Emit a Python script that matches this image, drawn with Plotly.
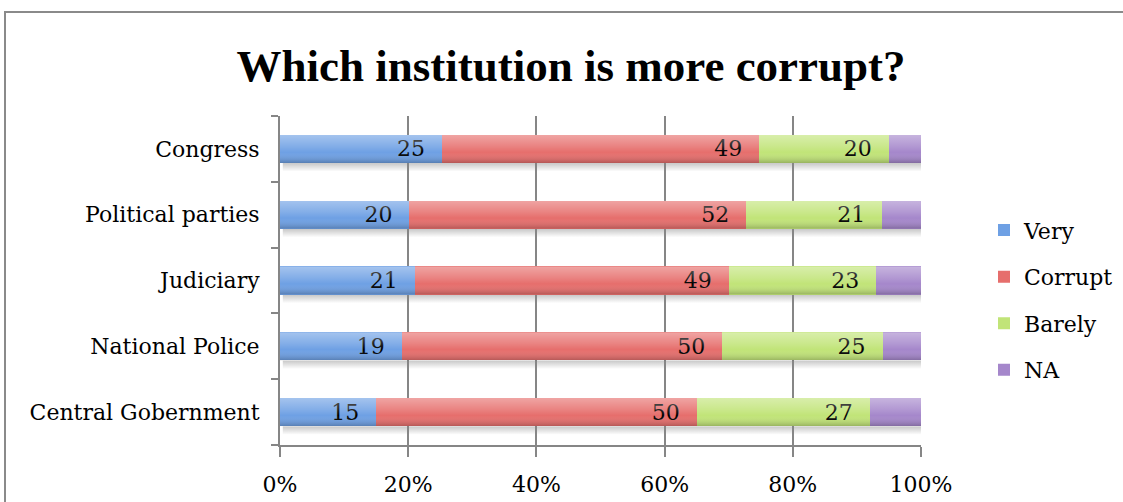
import base64
import plotly.graph_objects as go

# Survey answers per institution (counts in %)
institutions = ["Congress", "Political parties", "Judiciary", "National Police", "Central Gobernment"]
very = [25, 20, 21, 19, 15]
corrupt = [49, 52, 49, 50, 50]
barely = [20, 21, 23, 25, 27]
na = [5, 6, 7, 6, 8]

series = [
    ("Very", very, "#6ea0e4", True),
    ("Corrupt", corrupt, "#e66e6c", True),
    ("Barely", barely, "#c1e478", True),
    ("NA", na, "#a587cb", False),
]

FONT = "DejaVu Serif"
TITLE_FONT = "Liberation Serif"
PAD = "\u00a0\u00a0"
BARGAP = 0.57

fig = go.Figure()
for name, vals, color, labelled in series:
    fig.add_trace(go.Bar(
        name=name,
        legendgroup=name,
        y=institutions,
        x=vals,
        orientation="h",
        marker=dict(color=color, line=dict(width=0)),
        text=[f"{v}{PAD}" for v in vals] if labelled else None,
        textposition="inside" if labelled else "none",
        insidetextanchor="end",
        textangle=0,
        textfont=dict(family=FONT, size=22, color="black"),
        constraintext="none",
    ))


def svg_uri(stops):
    """Vertical linear gradient as an SVG data URI."""
    stop_tags = "".join(
        f'<stop offset="{o}" stop-color="{c}" stop-opacity="{a}"/>' for o, c, a in stops
    )
    svg = (
        '<svg xmlns="http://www.w3.org/2000/svg" width="100" height="100" '
        'viewBox="0 0 100 100" preserveAspectRatio="none">'
        f'<defs><linearGradient id="g" x1="0" y1="0" x2="0" y2="1">{stop_tags}</linearGradient></defs>'
        '<rect x="0" y="0" width="100" height="100" fill="url(#g)"/></svg>'
    )
    return "data:image/svg+xml;base64," + base64.b64encode(svg.encode()).decode()


# Glossy shading over each bar and a soft shadow underneath
shine = svg_uri([(0, "#ffffff", 0.38), (0.4, "#ffffff", 0.15), (0.62, "#ffffff", 0.0), (1, "#000000", 0.22)])
shadow = svg_uri([(0, "#000000", 0.22), (1, "#000000", 0.0)])
half = (1 - BARGAP) / 2
images = []
for i in range(len(institutions)):
    images.append(dict(
        source=shine, xref="x", yref="y", x=0, y=i + half,
        sizex=100, sizey=2 * half, xanchor="left", yanchor="top",
        sizing="stretch", layer="above", opacity=1,
    ))
    images.append(dict(
        source=shadow, xref="x", yref="y", x=0.4, y=i - half,
        sizex=100.4, sizey=0.13, xanchor="left", yanchor="top",
        sizing="stretch", layer="below", opacity=1,
    ))

fig.update_layout(
    width=1123,
    height=502,
    barmode="stack",
    barnorm="percent",
    bargap=BARGAP,
    paper_bgcolor="white",
    plot_bgcolor="white",
    margin=dict(l=280, r=202, t=116, b=57, autoexpand=False),
    font=dict(family=FONT, color="black"),
    title=dict(
        text="<b>Which institution is more corrupt?</b>",
        xref="container", x=571 / 1123, xanchor="center",
        y=1 - 65 / 502, yanchor="middle",
        font=dict(family=TITLE_FONT, size=45, color="black"),
    ),
    legend=dict(
        x=(984 - 280) / 641, xanchor="left",
        y=0.44, yanchor="middle",
        traceorder="grouped",
        font=dict(family=FONT, size=22, color="black"),
        itemsizing="constant",
        tracegroupgap=15,
        itemwidth=30,
        bgcolor="rgba(0,0,0,0)",
    ),
    images=images,
    uniformtext=dict(mode=False),
    showlegend=True,
)

fig.update_xaxes(
    range=[0, 100],
    tickvals=[0, 20, 40, 60, 80, 100],
    ticktext=["0%", "20%", "40%", "60%", "80%", "100%"],
    showgrid=True,
    gridcolor="#868686",
    gridwidth=2,
    showline=True,
    linecolor="#868686",
    linewidth=2,
    ticks="outside",
    ticklen=10,
    tickwidth=2,
    tickcolor="#868686",
    tickfont=dict(family=FONT, size=22, color="black"),
    ticklabelstandoff=9,
    zeroline=False,
    fixedrange=True,
)

fig.update_yaxes(
    categoryorder="array",
    categoryarray=institutions[::-1],
    showline=True,
    linecolor="#868686",
    linewidth=2,
    ticks="outside",
    tickson="boundaries",
    ticklen=7,
    tickwidth=2,
    tickcolor="#868686",
    tickfont=dict(family=FONT, size=22, color="black"),
    ticklabelstandoff=14,
    showgrid=False,
    fixedrange=True,
)

# Outer chart frame
fig.add_shape(
    type="rect", xref="paper", yref="paper",
    x0=(5 - 280) / 641, x1=(1130 - 280) / 641,
    y0=(445 - 510) / 329, y1=(445 - 12) / 329,
    line=dict(color="#8a8a8a", width=2),
    fillcolor="rgba(0,0,0,0)",
    layer="below",
)

fig.write_html("out.html", config={"displayModeBar": False})
